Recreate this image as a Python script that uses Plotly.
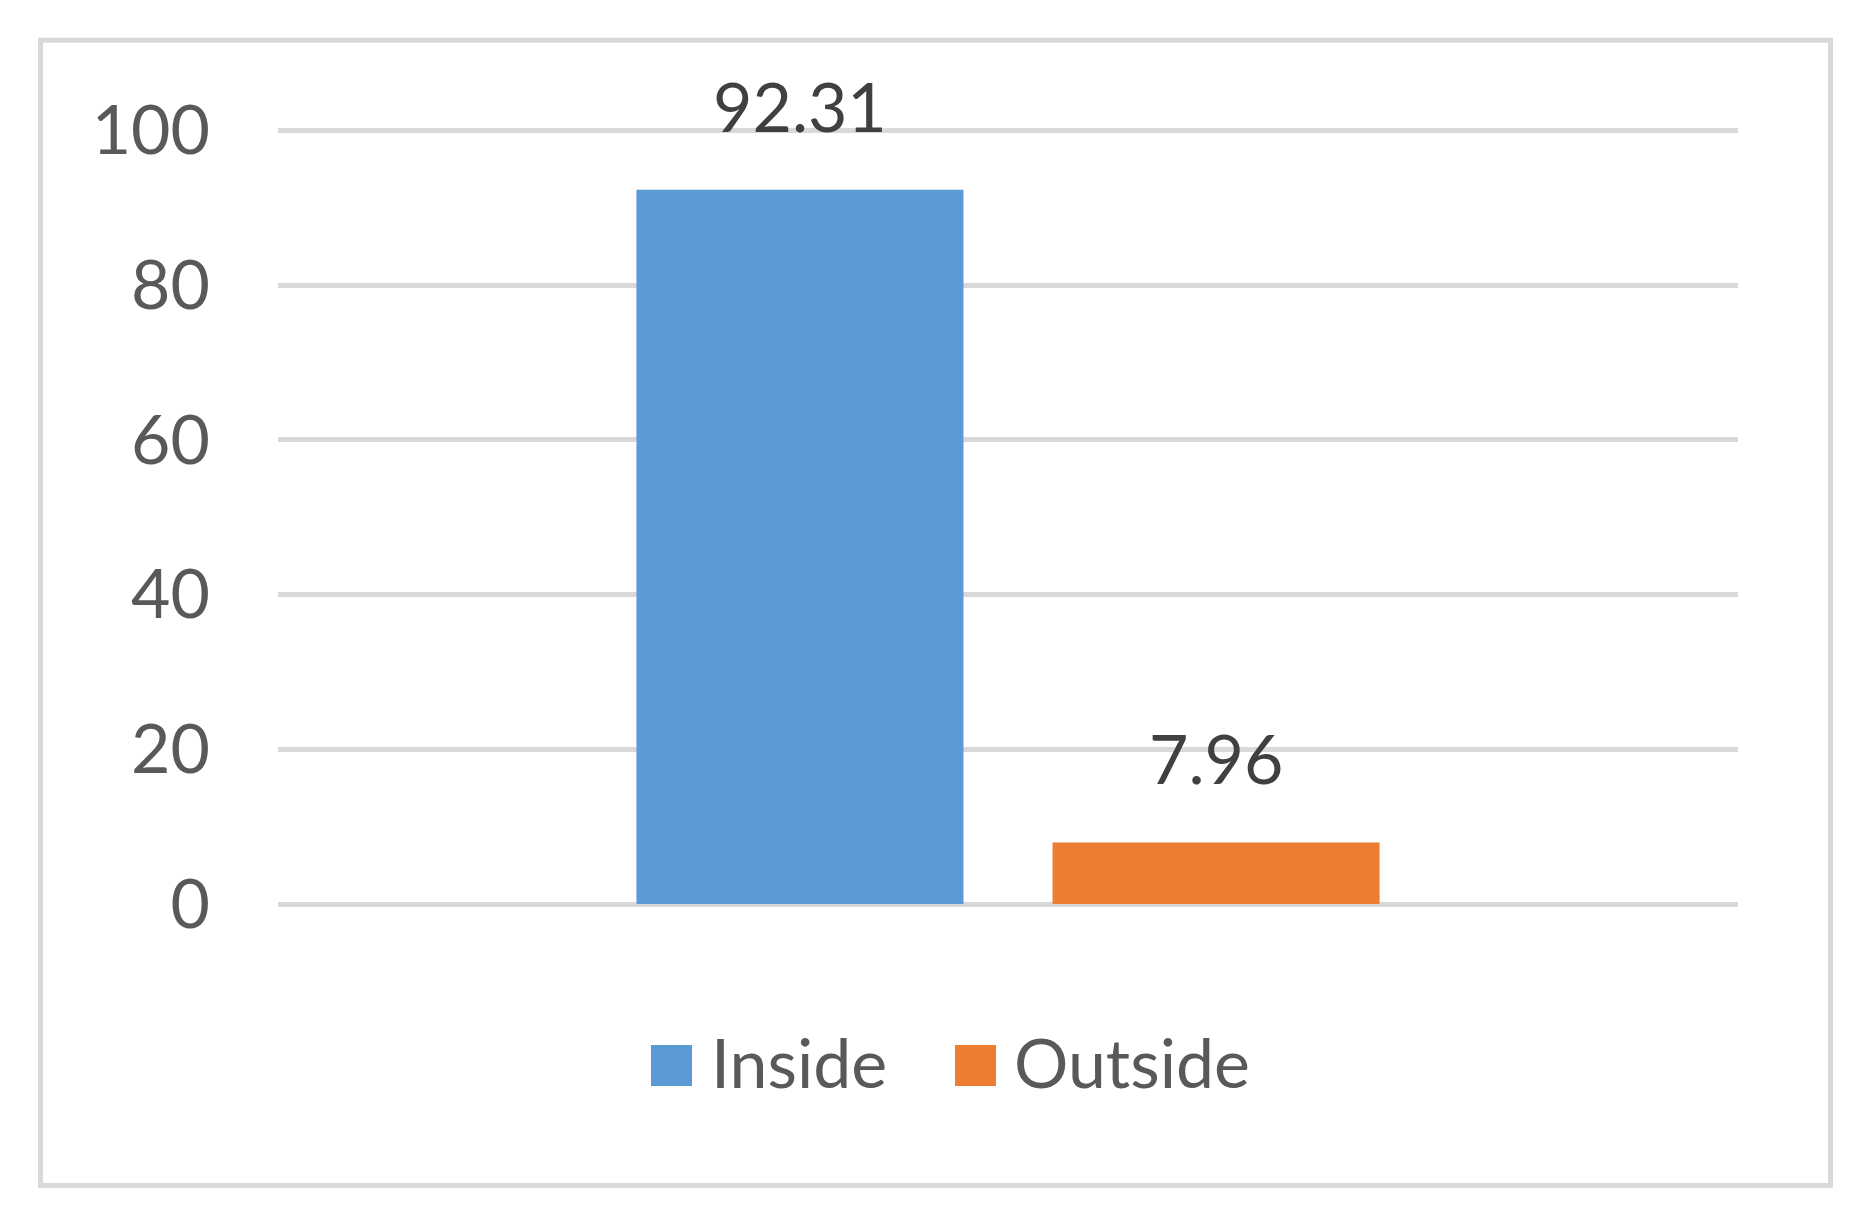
import plotly.graph_objects as go

# ---- data ----
categories = ["Location"]
series_names = ["Inside", "Outside"]
inside_values = [92.31]
outside_values = [7.96]
y_tick_values = [0, 20, 40, 60, 80, 100]
y_tick_labels = ["0", "20", "40", "60", "80", "100"]

series_values = [inside_values, outside_values]
colors = ["#5B9BD5", "#ED7D31"]

# ---- layout geometry (pixels) ----
W, H = 1864, 1224
Y0_PX, Y100_PX = 904, 130.5
SCALE = (Y0_PX - Y100_PX) / 100
YMAX = 100.3
L, R = 278, 126
T = Y0_PX - YMAX * SCALE
B = H - Y0_PX
PW, PH = W - L - R, H - T - B
BARGAP, BARGROUPGAP = 0.43, 0.214
FONT = "Lato, Carlito, Calibri, sans-serif"
FS = 68


def px_x(x):
    return (x - L) / PW


def px_y(y):
    return 1 - (y - T) / PH


fig = go.Figure()
for name, vals, col in zip(series_names, series_values, colors):
    fig.add_trace(go.Bar(x=categories, y=vals, name=name, marker_color=col,
                         marker_line_width=0, showlegend=False))

# data labels above the bars
slot = PW * (1 - BARGAP) / len(series_names)
annotations = []
for i, vals in enumerate(series_values):
    shift = (i - (len(series_names) - 1) / 2) * slot
    for c, v in zip(categories, vals):
        annotations.append(dict(x=c, y=v, xref="x", yref="y", text=f"{v:.2f}",
                                showarrow=False, yanchor="bottom", xanchor="center",
                                xshift=shift, yshift=42,
                                font=dict(family=FONT, size=FS, color="#404040")))

# manual legend (large square swatches like the original)
shapes = []
legend_sq = [(651, 692), (955, 996)]
legend_txt_x = [709, 1012]
for (x0, x1), tx, name, col in zip(legend_sq, legend_txt_x, series_names, colors):
    shapes.append(dict(type="rect", xref="paper", yref="paper",
                       x0=px_x(x0), x1=px_x(x1), y0=px_y(1086), y1=px_y(1045),
                       fillcolor=col, line_width=0))
    annotations.append(dict(x=px_x(tx), y=px_y(1061), xref="paper", yref="paper",
                            text=name, showarrow=False, xanchor="left", yanchor="middle",
                            font=dict(family=FONT, size=FS, color="#595959")))

# chart-area border
shapes.append(dict(type="rect", xref="paper", yref="paper",
                   x0=px_x(40.5), x1=px_x(1830.5), y0=px_y(1185.5), y1=px_y(40.5),
                   line=dict(color="#D9D9D9", width=5), fillcolor="rgba(0,0,0,0)",
                   layer="below"))

fig.update_layout(
    width=W, height=H,
    margin=dict(l=L, r=R, t=T, b=B, pad=0, autoexpand=False),
    paper_bgcolor="white", plot_bgcolor="white",
    barmode="group", bargap=BARGAP, bargroupgap=BARGROUPGAP,
    showlegend=False,
    font=dict(family=FONT, size=FS, color="#595959"),
    annotations=annotations,
    shapes=shapes,
    xaxis=dict(type="category", range=[-0.5, 0.5], showticklabels=False,
               showgrid=False, zeroline=False, showline=False, ticks="",
               automargin=False),
    yaxis=dict(range=[0, YMAX], tickvals=y_tick_values, ticktext=y_tick_labels,
               showgrid=True, gridcolor="#D9D9D9", gridwidth=5,
               zeroline=True, zerolinecolor="#D9D9D9", zerolinewidth=5,
               showline=False, ticks="", ticklabelstandoff=67, automargin=False,
               tickfont=dict(family=FONT, size=FS, color="#595959")),
)

fig.write_html("out.html", config={"displayModeBar": False},
               post_script="document.body.style.margin='0';document.body.style.overflow='hidden';")
